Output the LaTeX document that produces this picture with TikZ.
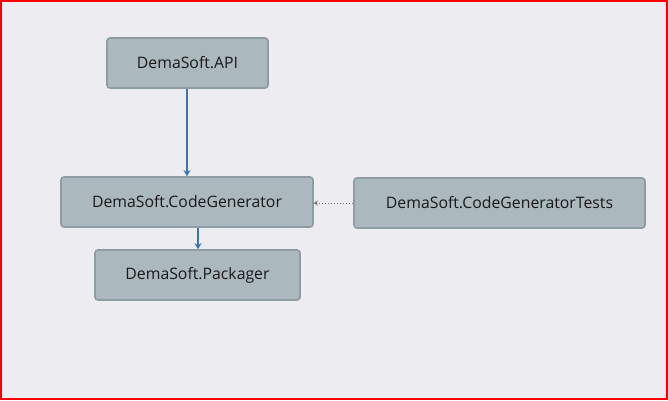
\documentclass[tikz,border=0pt]{standalone}
\usepackage{fontspec}
\setmainfont{Open Sans}
\usetikzlibrary{arrows.meta}
\definecolor{bg}{HTML}{EDECF1}
\definecolor{boxfill}{HTML}{ABB8BE}
\definecolor{boxline}{HTML}{8D9CA3}
\definecolor{arrowblue}{HTML}{3A75B0}
\definecolor{dotgray}{HTML}{6E6E6E}
\tikzset{
  pkg/.style={draw=boxline, fill=boxfill, line width=1.6pt, rounded corners=3pt,
    minimum height=50pt, inner sep=0pt, font=\fontsize{15.8}{18}\selectfont, text=black!90},
  dep/.style={draw=arrowblue, line width=1.8pt, -{Stealth[length=6pt,width=7pt]}},
  testdep/.style={draw=dotgray, line width=1pt, dotted, -{Stealth[open,length=4pt,width=5pt]}}
}
\begin{document}
\begin{tikzpicture}[x=1pt,y=-1pt]
\fill[bg] (0,0) rectangle (668,400);
\useasboundingbox (0,0) rectangle (668,400);
\draw[red, line width=2pt] (1,1) rectangle (667,399);
\node[pkg, minimum width=161pt] (api) at (187.5,63) {DemaSoft.API};
\node[pkg, minimum width=252pt] (cg) at (187,202) {DemaSoft.CodeGenerator};
\node[pkg, minimum width=205pt] (pk) at (197.5,275) {DemaSoft.Packager};
\node[pkg, minimum width=291pt] (ts) at (499.5,203) {DemaSoft.CodeGeneratorTests};
\draw[dep] (api.south -| 187,0) -- (cg.north -| 187,0);
\draw[dep] (cg.south -| 198,0) -- (pk.north -| 198,0);
\draw[testdep] (ts.west |- 0,203) -- (cg.east |- 0,203);
\end{tikzpicture}
\end{document}
